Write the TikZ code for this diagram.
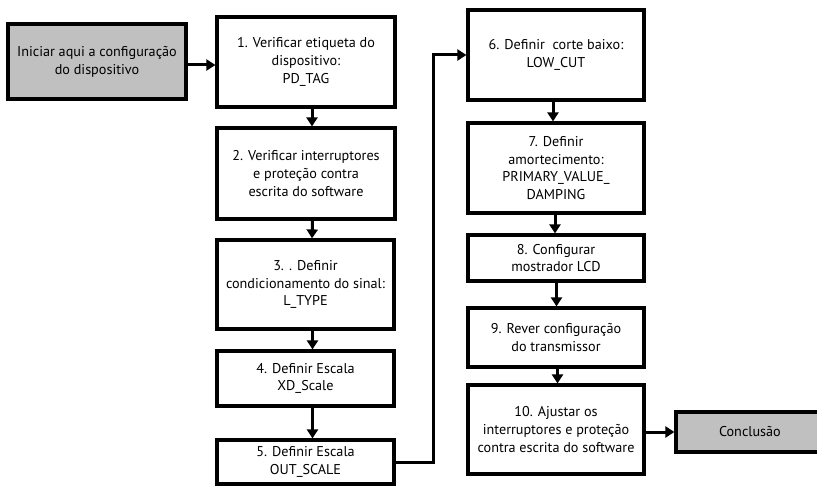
\documentclass[tikz,border=0pt]{standalone}
\usepackage{fontspec}
\setmainfont{PT Sans}
\usetikzlibrary{arrows.meta,calc}
\definecolor{boxgray}{HTML}{C0C0C0}
\begin{document}
\begin{tikzpicture}[x=1pt,y=-1pt,
  box/.style={draw=black,line width=3.2pt,align=center,inner sep=0pt,
    font=\fontsize{14.2}{17.8}\selectfont},
  gbox/.style={box,fill=boxgray},
  arr/.style={line width=3pt,-{Triangle[length=9pt,width=11pt]}},
  link/.style={line width=3pt}]
\useasboundingbox (0,0) rectangle (817,486);
\begin{scope}
\clip (0,0) rectangle (817,486);
% boxes: centre x, centre y, width, height
\node[gbox,minimum width=178,minimum height=75] (st) at (97,61.5) {Iniciar aqui a configuração\\do dispositivo};
\node[box,minimum width=178,minimum height=90] (b1) at (306,62) {1. Verificar etiqueta do\\dispositivo:\\PD\_TAG};
\node[box,minimum width=178,minimum height=91] (b2) at (306,173.5) {2. Verificar interruptores\\e proteção contra\\escrita do software};
\node[box,minimum width=177,minimum height=89] (b3) at (305.5,284.5) {3. . Definir\\condicionamento do sinal:\\L\_TYPE};
\node[box,minimum width=177,minimum height=55] (b4) at (305.5,378.5) {4. Definir Escala\\XD\_Scale};
\node[box,minimum width=177,minimum height=44] (b5) at (305.5,462) {5. Definir Escala\\OUT\_SCALE};
\node[box,minimum width=176,minimum height=90] (b6) at (556,55) {6. Definir\ \ corte baixo:\\LOW\_CUT};
\node[box,minimum width=176,minimum height=90] (b7) at (556,168) {7. Definir\\amortecimento:\\PRIMARY\_VALUE\_\\DAMPING};
\node[box,minimum width=176,minimum height=46] (b8) at (556,258) {8. Configurar\\mostrador LCD};
\node[box,minimum width=176,minimum height=59] (b9) at (556,337.5) {9. Rever configuração\\do transmissor};
\node[box,minimum width=176,minimum height=89] (b10) at (556,429.5) {10. Ajustar os\\interruptores e proteção\\contra escrita do software};
\node[gbox,minimum width=150,minimum height=40,text width=150,align=left] (cc) at (751,432) {\hspace*{43pt}Conclusão};
\coordinate (bend) at (433,55);
% connectors
\draw[arr] ([yshift=-3.5pt]st.east) -- ([yshift=-3pt]b1.west);
\draw[arr] ([xshift=6pt]b1.south) -- ([xshift=6pt]b2.north);
\draw[arr] ([xshift=6.5pt]b2.south) -- ([xshift=6.5pt]b3.north);
\draw[arr] ([xshift=7pt]b3.south) -- ([xshift=7pt]b4.north);
\draw[arr] ([xshift=7pt]b4.south) -- ([xshift=7pt]b5.north);
\draw[arr] (b5.east) -| (bend) -- (b6.west);
\draw[arr] ([xshift=-3pt]b6.south) -- ([xshift=-3pt]b7.north);
\draw[arr] ([xshift=-1pt]b7.south) -- ([xshift=-1pt]b8.north);
\draw[arr] ([xshift=0.5pt]b8.south) -- ([xshift=0.5pt]b9.north);
\draw[arr] ([xshift=1.5pt]b9.south) -- ([xshift=1.5pt]b10.north);
\draw[arr] (b10.east |- cc.west) -- (cc.west);
\end{scope}
\end{tikzpicture}
\end{document}
